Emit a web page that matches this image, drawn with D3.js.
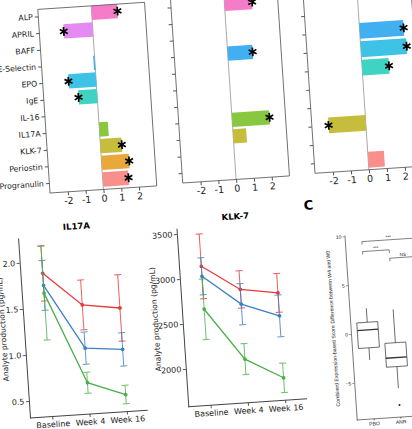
<!DOCTYPE html>
<html>
<head>
<meta charset="utf-8">
<script src="https://cdn.jsdelivr.net/npm/d3@7"></script>
<style>
body{margin:0;background:#fff;}
svg{display:block;font-family:"DejaVu Sans",sans-serif;}
</style>
</head>
<body>
<script>
var W = 412, H = 429;
var tilt = -3.8; // the photographed figure is slightly rotated

// top row: fold change per analyte, three comparisons
var analytes = ["ALP","APRIL","BAFF","E-Selectin","EPO","IgE","IL-16","IL17A","KLK-7","Periostin","Progranulin"];
var analyteColors = ["#f57cc8","#e58af0","#a996f5","#42aff0","#3ec3e6","#40d2c2","#4cc98e","#88c840","#c6bd3c","#e9a83c","#f88f8b"];
var fcTicks = [-2,-1,0,1,2];
var fc1 = [1.45,-1.63,0,-0.08,-1.55,-1.05,0,0.5,1.2,1.55,1.45];
var sig1 = [1,1,0,0,1,1,0,0,1,1,1];
var fc2 = [1.55,0,0,1.4,0,0,0,2.1,0.75,0,0];
var sig2 = [1,0,0,1,0,0,0,1,0,0,0];
var fc3 = [0,0,0,2.45,2.55,1.5,0,0,-2.07,0,0.9];
var sig3 = [0,0,0,1,1,1,0,0,1,0,0];

// bottom row: analyte production over time, three groups
var timepoints = ["Baseline","Week 4","Week 16"];
var groupColors = ["#e6393b","#3d7fc2","#4bb049"];
var il17aRed = [1.87,1.50,1.44], il17aRedErr = [0.30,0.27,0.36];
var il17aBlue = [1.74,1.03,0.99], il17aBlueErr = [0.27,0.175,0.18];
var il17aGreen = [1.655,0.655,0.50], il17aGreenErr = [0.51,0.115,0.10];
var il17aTicks = [0.5,1.0,1.5,2.0];
var klk7Red = [3124,2839,2773], klk7RedErr = [360,207,215];
var klk7Blue = [3013,2676,2518], klk7BlueErr = [205,228,233];
var klk7Green = [2647,2065,1830], klk7GreenErr = [336,172,163];
var klk7Ticks = [2000,2500,3000,3500];

// panel C: score difference boxplot
var boxGroups = ["PBO","ANR"];
var pboBox = [-2.76,-1.52,0.31,1.09,2.52]; // low whisker, q1, median, q3, high whisker
var anrBox = [-5.85,-3.62,-2.70,-1.18,2.23];
var anrOutliers = [-7.55];
var scoreTicks = [-5,0,5,10];
var brackets = [{from:0,to:2,y:9.34,label:"***"},{from:0,to:1,y:8.32,label:"***"},{from:1,to:2,y:7.46,label:"NS"}];

var svg = d3.select("body").append("svg").attr("width", W).attr("height", H);

function panel(ox, oy, h){
  return svg.append("g")
    .attr("transform", "translate(" + ox + "," + oy + ") rotate(" + tilt + ") translate(0," + (-h) + ")");
}

function styleAxis(a, fs, fam){
  a.attr("font-size", fs).attr("font-family", fam || "DejaVu Sans");
  a.selectAll("line").attr("stroke", "#555");
  a.selectAll("text").attr("fill", "#222");
}

function fcPanel(ox, oy, w, h, pad, vals, sig, withLabels){
  var g = panel(ox, oy, h);
  var x = d3.scaleLinear().domain([-3,3]).range([0,w]);
  var y = d3.scalePoint().domain(analytes).range([pad[0], h - pad[1]]);
  var bh = y.step() * 0.86;
  var rows = analytes.map(function(a,i){ return {a:a, v:vals[i], s:sig[i], c:analyteColors[i]}; });

  g.append("line").attr("x1", x(0)).attr("x2", x(0)).attr("y1", 0).attr("y2", h)
    .attr("stroke", "#aaa").attr("stroke-width", 1);

  g.selectAll(".bar").data(rows.filter(function(d){ return d.v !== 0; }))
    .enter().append("rect").attr("class","bar")
    .attr("x", function(d){ return x(Math.min(0,d.v)); })
    .attr("width", function(d){ return Math.abs(x(d.v) - x(0)); })
    .attr("y", function(d){ return y(d.a) - bh/2; })
    .attr("height", bh)
    .attr("fill", function(d){ return d.c; });

  g.selectAll(".star").data(rows.filter(function(d){ return d.s; }))
    .enter().append("path").attr("class","star")
    .attr("d", d3.symbol(d3.symbolAsterisk, 55))
    .attr("transform", function(d){ return "translate(" + x(d.v) + "," + y(d.a) + ")"; })
    .attr("stroke", "#000").attr("stroke-width", 1.7).attr("fill", "none");

  g.append("rect").attr("width", w).attr("height", h)
    .attr("fill", "none").attr("stroke", "#666").attr("stroke-width", 0.9);

  var ya = g.append("g").call(d3.axisLeft(y).tickSize(3.5).tickPadding(2)
    .tickFormat(withLabels ? null : ""));
  ya.select(".domain").remove();
  styleAxis(ya, 7.8);

  var xa = g.append("g").attr("transform", "translate(0," + h + ")")
    .call(d3.axisBottom(x).tickValues(fcTicks).tickSize(3.5).tickPadding(2).tickFormat(function(d){ return String(d); }));
  xa.select(".domain").remove();
  styleAxis(xa, 9.5);
}

fcPanel(50, 193, 107, 184, [7,10], fc1, sig1, true);
fcPanel(182.7, 183, 107, 184, [8,10], fc2, sig2, false);
fcPanel(315, 173.3, 108, 202.6, [8,10], fc3, sig3, false);

function linePanel(ox, oy, w, h, dom, ticks, fmt, title, series, labelX){
  var g = panel(ox, oy, h);
  var x = d3.scalePoint().domain(timepoints).range([22.3, 97]);
  var y = d3.scaleLinear().domain(dom).range([h, 0]);
  var line = d3.line().x(function(d){ return x(d.t); }).y(function(d){ return y(d.v); });

  series.forEach(function(s){
    var pts = timepoints.map(function(t,i){ return {t:t, v:s.vals[i], e:s.errs[i]}; });
    var eb = g.append("g").attr("stroke", s.color).attr("stroke-width", 1).attr("opacity", 0.8);
    eb.selectAll(".eb").data(pts).enter().append("line")
      .attr("x1", function(d){ return x(d.t); }).attr("x2", function(d){ return x(d.t); })
      .attr("y1", function(d){ return y(d.v - d.e); }).attr("y2", function(d){ return y(d.v + d.e); });
    eb.selectAll(".capt").data(pts).enter().append("line")
      .attr("x1", function(d){ return x(d.t) - 3.5; }).attr("x2", function(d){ return x(d.t) + 3.5; })
      .attr("y1", function(d){ return y(d.v + d.e); }).attr("y2", function(d){ return y(d.v + d.e); });
    eb.selectAll(".capb").data(pts).enter().append("line")
      .attr("x1", function(d){ return x(d.t) - 3.5; }).attr("x2", function(d){ return x(d.t) + 3.5; })
      .attr("y1", function(d){ return y(d.v - d.e); }).attr("y2", function(d){ return y(d.v - d.e); });
    g.append("path").datum(pts).attr("d", line)
      .attr("fill", "none").attr("stroke", s.color).attr("stroke-width", 1.3);
    g.selectAll(null).data(pts).enter().append("circle")
      .attr("cx", function(d){ return x(d.t); }).attr("cy", function(d){ return y(d.v); })
      .attr("r", 1.9).attr("fill", s.color);
  });

  var ya = g.append("g").call(d3.axisLeft(y).tickValues(ticks).tickFormat(fmt).tickSize(3).tickPadding(1.5).tickSizeOuter(0));
  styleAxis(ya, 8);
  ya.select(".domain").attr("stroke", "#444");

  var xa = g.append("g").attr("transform", "translate(0," + h + ")")
    .call(d3.axisBottom(x).tickSize(3).tickPadding(2));
  xa.select(".domain").remove();
  styleAxis(xa, 8);
  g.append("line").attr("x1", 0).attr("x2", w).attr("y1", h).attr("y2", h)
    .attr("stroke", "#444").attr("stroke-width", 1);

  g.append("text").attr("x", w/2).attr("y", -5).attr("text-anchor", "middle")
    .attr("font-size", 8.5).attr("font-weight", "bold").text(title);
  g.append("text").attr("transform", "translate(" + labelX + "," + (h/2) + ") rotate(-90)")
    .attr("text-anchor", "middle").attr("dy", "0.32em").attr("font-size", 7.6).attr("fill", "#222")
    .text("Analyte production (pg/mL)");
}

linePanel(30, 418, 118, 180.4, [0.315, 2.27], il17aTicks, d3.format(".1f"), "IL17A", [
  {vals: il17aRed, errs: il17aRedErr, color: groupColors[0]},
  {vals: il17aBlue, errs: il17aBlueErr, color: groupColors[1]},
  {vals: il17aGreen, errs: il17aGreenErr, color: groupColors[2]}
], -21);

linePanel(188.3, 406.7, 119, 178.8, [1580, 3563], klk7Ticks, d3.format("d"), "KLK-7", [
  {vals: klk7Red, errs: klk7RedErr, color: groupColors[0]},
  {vals: klk7Blue, errs: klk7BlueErr, color: groupColors[1]},
  {vals: klk7Green, errs: klk7GreenErr, color: groupColors[2]}
], -27);

// panel C
var hC = 185.4;
var gC = panel(356.7, 420, hC);
var yC = d3.scaleLinear().domain([-8.79, 10.13]).range([hC, 0]);
var xC = d3.scaleLinear().domain([0, 2]).range([17, 70.4]);
var boxW = 21;
var fontC = "Liberation Sans";

[pboBox, anrBox].forEach(function(b, i){
  var cx = xC(i);
  var bg = gC.append("g").attr("stroke", "#333").attr("stroke-width", 0.7).attr("fill", "none");
  bg.append("line").attr("x1", cx).attr("x2", cx).attr("y1", yC(b[0])).attr("y2", yC(b[1]));
  bg.append("line").attr("x1", cx).attr("x2", cx).attr("y1", yC(b[3])).attr("y2", yC(b[4]));
  bg.append("rect").attr("x", cx - boxW/2).attr("width", boxW)
    .attr("y", yC(b[3])).attr("height", yC(b[1]) - yC(b[3])).attr("fill", "#fff");
  bg.append("line").attr("x1", cx - boxW/2).attr("x2", cx + boxW/2)
    .attr("y1", yC(b[2])).attr("y2", yC(b[2])).attr("stroke-width", 1.3);
});
gC.selectAll(".out").data(anrOutliers).enter().append("circle")
  .attr("cx", xC(1)).attr("cy", function(d){ return yC(d); }).attr("r", 1).attr("fill", "#222");

var yaC = gC.append("g").call(d3.axisLeft(yC).tickValues(scoreTicks).tickSize(2).tickPadding(1).tickSizeOuter(0));
styleAxis(yaC, 5, fontC);
yaC.select(".domain").attr("stroke", "#444").attr("stroke-width", 0.7);
yaC.selectAll("line").attr("stroke-width", 0.6);

var xaC = gC.append("g").attr("transform", "translate(0," + hC + ")")
  .call(d3.axisBottom(xC).tickValues([0,1]).tickFormat(function(i){ return boxGroups[i]; }).tickSize(1.5).tickPadding(1.5));
xaC.select(".domain").remove();
styleAxis(xaC, 5, fontC);
gC.append("line").attr("x1", 0).attr("x2", 120).attr("y1", hC).attr("y2", hC)
  .attr("stroke", "#444").attr("stroke-width", 0.7);

gC.selectAll(".br").data(brackets).enter().append("path")
  .attr("d", function(d){
    return "M" + xC(d.from) + "," + (yC(d.y) + 3) + "V" + yC(d.y) + "H" + xC(d.to) + "V" + (yC(d.y) + 3);
  })
  .attr("fill", "none").attr("stroke", "#333").attr("stroke-width", 0.6);
gC.selectAll(".brl").data(brackets).enter().append("text")
  .attr("x", function(d){ return (xC(d.from) + xC(d.to)) / 2; })
  .attr("y", function(d){ return yC(d.y) - 1.2; })
  .attr("text-anchor", "middle").attr("font-size", 4.5).attr("font-family", fontC).attr("fill", "#222")
  .text(function(d){ return d.label; });

gC.append("text").attr("transform", "translate(-17.5," + (hC/2) + ") rotate(-90)")
  .attr("text-anchor", "middle").attr("dy", "0.32em").attr("font-size", 5.2).attr("font-family", fontC).attr("fill", "#222")
  .text("Combined Expression-based Score Difference between W4 and W0");

gC.append("text").attr("x", -34).attr("y", -32.4).attr("dy", "0.36em").attr("text-anchor", "middle")
  .attr("font-size", 13).attr("font-weight", "bold").attr("font-family", "DejaVu Sans").text("C");
</script>
</body>
</html>
